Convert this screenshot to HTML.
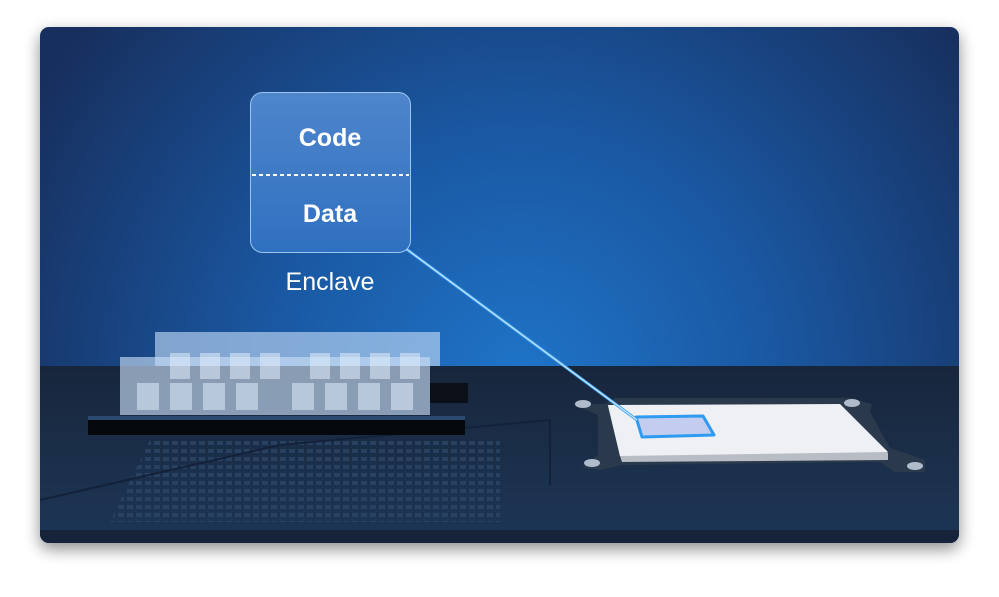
<!DOCTYPE html>
<html><head><style>
html,body{margin:0;padding:0;background:#fff;width:999px;height:597px;overflow:hidden}
</style></head><body>
<svg width="999" height="597" viewBox="0 0 999 597" xmlns="http://www.w3.org/2000/svg">
<defs>
<filter id="sh" x="-10%" y="-10%" width="120%" height="125%"><feGaussianBlur stdDeviation="8"/></filter>
<radialGradient id="sky" cx="520" cy="380" r="560" gradientUnits="userSpaceOnUse">
<stop offset="0" stop-color="#1f74c8"/><stop offset="0.45" stop-color="#1a58a2"/><stop offset="1" stop-color="#172f5e"/>
</radialGradient>
<linearGradient id="board" x1="0" y1="366" x2="0" y2="543" gradientUnits="userSpaceOnUse">
<stop offset="0" stop-color="#18263c"/><stop offset="1" stop-color="#1d3656"/></linearGradient>
<linearGradient id="enc" x1="0" y1="92" x2="0" y2="252" gradientUnits="userSpaceOnUse">
<stop offset="0" stop-color="#4f86cc"/><stop offset="1" stop-color="#2f70c0"/></linearGradient>
<clipPath id="card"><rect x="40" y="27" width="919" height="516" rx="9"/></clipPath>
<pattern id="grid" width="9" height="8" patternUnits="userSpaceOnUse"><rect x="1" y="1" width="6" height="4" fill="#2c4666"/></pattern>
</defs>
<rect x="40" y="33" width="919" height="516" rx="9" fill="#000" opacity="0.45" filter="url(#sh)"/>
<g clip-path="url(#card)">
<rect x="40" y="27" width="919" height="340" fill="url(#sky)"/>
<rect x="40" y="366" width="919" height="177" fill="url(#board)"/>
<polygon points="150,440 500,440 500,522 110,522" fill="url(#grid)" opacity="0.8"/>
<polyline points="40,500 280,445 550,420 550,485" fill="none" stroke="#13223a" stroke-width="2"/>
<rect x="40" y="530" width="919" height="13" fill="#15243a"/>
<!-- RAM -->
<rect x="155" y="332" width="285" height="34" fill="#bcd6f2" opacity="0.65"/>
<rect x="120" y="357" width="310" height="58" fill="#c6dcf4" opacity="0.65"/>
<g fill="#e0ecfa" opacity="0.55">
<rect x="137" y="383" width="22" height="27"/><rect x="170" y="383" width="22" height="27"/><rect x="203" y="383" width="22" height="27"/><rect x="236" y="383" width="22" height="27"/><rect x="292" y="383" width="22" height="27"/><rect x="325" y="383" width="22" height="27"/><rect x="358" y="383" width="22" height="27"/><rect x="391" y="383" width="22" height="27"/>
<rect x="170" y="353" width="20" height="26"/><rect x="200" y="353" width="20" height="26"/><rect x="230" y="353" width="20" height="26"/><rect x="260" y="353" width="20" height="26"/><rect x="310" y="353" width="20" height="26"/><rect x="340" y="353" width="20" height="26"/><rect x="370" y="353" width="20" height="26"/><rect x="400" y="353" width="20" height="26"/>
</g>
<rect x="430" y="383" width="38" height="20" fill="#0a0f18"/>
<rect x="88" y="416" width="377" height="4" fill="#2a4a70"/>
<rect x="88" y="420" width="377" height="15" fill="#05080d"/>
<!-- chip bracket -->
<polygon points="572,404 605,404 615,398 850,398 872,404 870,412 890,448 925,460 925,472 895,472 880,462 622,465 600,470 582,468 598,455 598,415" fill="#2a3a4c"/>
<g fill="#b0bccb"><ellipse cx="583" cy="404" rx="8" ry="4"/><ellipse cx="852" cy="403" rx="8" ry="4"/><ellipse cx="592" cy="463" rx="8" ry="4"/><ellipse cx="915" cy="466" rx="8" ry="4"/></g>
<polygon points="608,406 840,405 888,453 888,460 622,462 620,456" fill="#b8bcc4"/>
<polygon points="608,405 840,404 888,452 620,456" fill="#eef0f3"/>
<polygon points="636,417 703,416 714,435 642,437" fill="#c3cdf0" stroke="#2e9af0" stroke-width="3" stroke-linejoin="round"/>
<!-- line -->
<line x1="405" y1="248" x2="637" y2="420" stroke="#4aa8f5" stroke-width="3"/>
<line x1="405" y1="248" x2="637" y2="420" stroke="#d8eeff" stroke-width="1"/>
<!-- enclave -->
<rect x="250.5" y="92.5" width="160" height="160" rx="12" fill="url(#enc)" stroke="#9cc4ee" stroke-width="1"/>
<line x1="252" y1="175" x2="409" y2="175" stroke="#fff" stroke-width="2" stroke-dasharray="4,3"/>
<text x="330" y="146" text-anchor="middle" font-family="Liberation Sans, sans-serif" font-weight="bold" font-size="25" fill="#fff">Code</text>
<text x="330" y="222" text-anchor="middle" font-family="Liberation Sans, sans-serif" font-weight="bold" font-size="25" fill="#fff">Data</text>
<text x="330" y="290" text-anchor="middle" font-family="Liberation Sans, sans-serif" font-size="25" fill="#fff">Enclave</text>
</g>
</svg>
</body></html>
